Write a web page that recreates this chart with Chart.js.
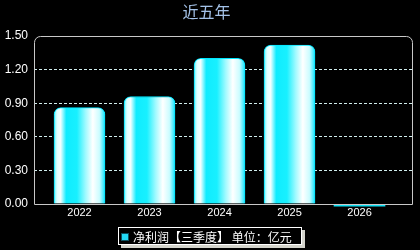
<!DOCTYPE html>
<html>
<head>
<meta charset="utf-8">
<script src="https://cdn.jsdelivr.net/npm/chart.js@4/dist/chart.umd.min.js"></script>
<style>
html,body{margin:0;padding:0;background:#000;}
#wrap{width:420px;height:250px;position:relative;}
</style>
</head>
<body>
<div id="wrap"><canvas id="c" width="420" height="250"></canvas></div>
<script>
const categories = ['2022', '2023', '2024', '2025', '2026'];
const profitValues = [0.86, 0.96, 1.30, 1.42, -0.02];
const yTicks = [0.00, 0.30, 0.60, 0.90, 1.20, 1.50];
const titleText = '近五年';
const seriesLabel = '净利润【三季度】 单位：亿元';

const BAR_W = 51;

function barGradient(c) {
  const chart = c.chart;
  const xs = chart.scales && chart.scales.x;
  if (!xs || c.dataIndex === undefined) return '#00f0ff';
  if (c.raw && c.raw.y < 0) return '#10e0f4';
  const cx = xs.getPixelForValue(c.dataIndex);
  if (!isFinite(cx)) return '#00f0ff';
  const g = chart.ctx.createLinearGradient(cx - BAR_W / 2, 0, cx + BAR_W / 2, 0);
  g.addColorStop(0.00, '#60f4ff');
  g.addColorStop(0.06, '#e0ffff');
  g.addColorStop(0.13, '#f4ffff');
  g.addColorStop(0.24, '#10ecff');
  g.addColorStop(0.45, '#18f0ff');
  g.addColorStop(0.62, '#a0faff');
  g.addColorStop(0.76, '#ffffff');
  g.addColorStop(0.89, '#ccfcff');
  g.addColorStop(1.00, '#10e4ff');
  return g;
}

const framePlugin = {
  id: 'frame',
  afterDatasetsDraw(chart) {
    const ctx = chart.ctx;
    const a = chart.chartArea;
    const l = a.left + 0.5, r = a.right - 0.5, t = a.top + 0.5, b = a.bottom + 0.5, rad = 6;
    ctx.save();
    ctx.strokeStyle = '#c8c8c8';
    ctx.lineWidth = 1;
    ctx.beginPath();
    ctx.moveTo(l, b);
    ctx.lineTo(l, t + rad);
    ctx.arcTo(l, t, l + rad, t, rad);
    ctx.lineTo(r - rad, t);
    ctx.arcTo(r, t, r, t + rad, rad);
    ctx.lineTo(r, b);
    ctx.lineTo(l, b);
    ctx.stroke();
    ctx.restore();
  }
};

const legendPlugin = {
  id: 'boxLegend',
  afterDraw(chart) {
    const ctx = chart.ctx;
    ctx.save();
    ctx.fillStyle = '#d4d4cc';
    ctx.fillRect(121, 230, 184, 18);
    ctx.fillStyle = '#000';
    ctx.fillRect(118, 227, 184, 18);
    ctx.strokeStyle = '#ffffff';
    ctx.lineWidth = 1;
    ctx.strokeRect(118.5, 227.5, 183, 17);
    ctx.fillStyle = '#22d8f4';
    ctx.fillRect(121, 233, 8, 8);
    ctx.strokeStyle = '#0a5060';
    ctx.strokeRect(121.5, 233.5, 7, 7);
    ctx.fillStyle = '#ffffff';
    ctx.font = '12px "Noto Sans CJK SC", sans-serif';
    ctx.textBaseline = 'middle';
    ctx.textAlign = 'left';
    ctx.fillText(chart.data.datasets[0].label, 133, 237);
    ctx.restore();
  }
};

new Chart(document.getElementById('c'), {
  type: 'bar',
  data: {
    datasets: [{
      label: seriesLabel,
      data: profitValues.map((v, i) => ({ x: i, y: v })),
      backgroundColor: barGradient,
      borderColor: '#00e6ff',
      borderWidth: (c) => (c.raw && c.raw.y < 0) ? 0 : 1,
      borderSkipped: 'start',
      borderRadius: (c) => (c.raw && c.raw.y < 0) ? 0 : { topLeft: 7, topRight: 7, bottomLeft: 0, bottomRight: 0 },
      barThickness: BAR_W,
      clip: false
    }]
  },
  options: {
    responsive: false,
    animation: false,
    devicePixelRatio: 1,
    layout: { padding: { left: 0, right: 7, top: 0, bottom: 26 } },
    plugins: {
      legend: { display: false },
      tooltip: { enabled: false },
      title: {
        display: true,
        text: titleText,
        color: '#a4c2e8',
        font: { family: '"Noto Sans CJK SC", sans-serif', size: 16, weight: 'normal' },
        padding: { top: 2, bottom: 14.8 }
      }
    },
    scales: {
      x: {
        type: 'linear',
        offset: false,
        min: -0.65,
        max: 4.764,
        afterFit: (s) => { s.height = 20; },
        afterBuildTicks: (s) => { s.ticks = categories.map((_, i) => ({ value: i })); },
        ticks: {
          color: '#ffffff',
          font: { family: '"Liberation Sans", Arial, sans-serif', size: 11 },
          padding: 2,
          autoSkip: false,
          maxRotation: 0,
          callback: (v) => categories[v]
        },
        grid: { display: false, drawTicks: false, offset: false },
        border: { display: false }
      },
      y: {
        min: 0,
        max: 1.5,
        afterFit: (s) => { s.width = 34; },
        afterBuildTicks: (s) => { s.ticks = yTicks.map(v => ({ value: v })); },
        ticks: {
          color: '#ffffff',
          font: { family: '"Liberation Sans", Arial, sans-serif', size: 12 },
          padding: 6,
          callback: (v) => Number(v).toFixed(2)
        },
        grid: {
          drawTicks: false,
          color: (c) => (c.tick && (c.tick.value <= 0.001 || c.tick.value >= 1.499)) ? 'rgba(0,0,0,0)' : '#d0ecec',
          lineWidth: 1
        },
        border: { display: false, dash: [3, 2] }
      }
    }
  },
  plugins: [framePlugin, legendPlugin]
});
</script>
</body>
</html>
